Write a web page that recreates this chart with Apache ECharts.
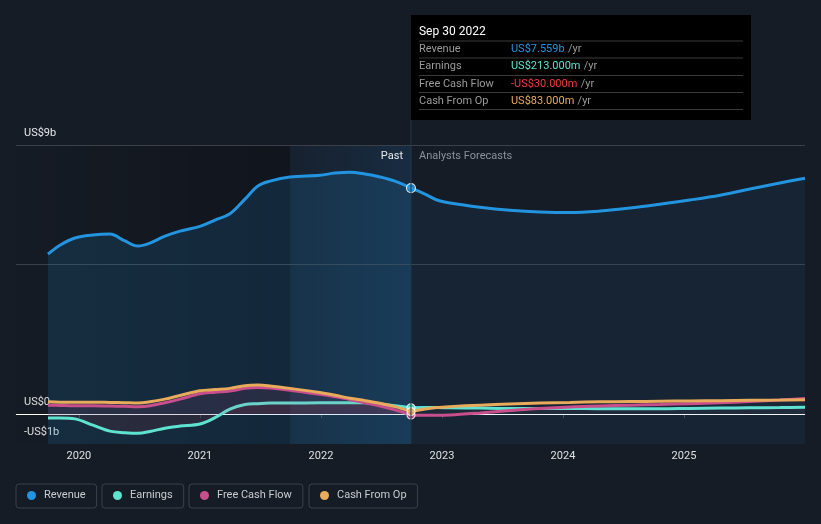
<!DOCTYPE html>
<html><head><meta charset="utf-8">
<script src="https://cdn.jsdelivr.net/npm/echarts@6/dist/echarts.min.js"></script>
<style>html,body{margin:0;padding:0;background:#161c26;}#c{width:821px;height:524px;}</style>
</head><body><div id="c"></div>
<script>
// ---- data (decimal years, values in US$ billions) ----
const pastYears = [2019.744,2019.843,2019.967,2020.116,2020.256,2020.380,2020.488,2020.587,2020.711,2020.835,2021.000,2021.124,2021.248,2021.372,2021.479,2021.579,2021.744,2021.992,2022.116,2022.240,2022.364,2022.488,2022.612,2022.744];
const forecastYears = [2022.744,2022.860,2022.959,2023.066,2023.314,2023.562,2023.810,2024.058,2024.306,2024.554,2024.802,2025.050,2025.298,2025.545,2025.793,2026.000];

const revenuePast = [5.35,5.65,5.89,5.99,6.02,5.79,5.62,5.72,5.95,6.12,6.28,6.49,6.70,7.19,7.63,7.79,7.93,7.99,8.06,8.09,8.03,7.93,7.79,7.559];
const revenueForecast = [7.559,7.36,7.16,7.06,6.92,6.82,6.76,6.74,6.79,6.89,7.02,7.16,7.32,7.53,7.73,7.89];

const earningsPast = [-0.13,-0.13,-0.16,-0.37,-0.57,-0.62,-0.64,-0.58,-0.47,-0.40,-0.33,-0.12,0.17,0.32,0.35,0.37,0.37,0.38,0.38,0.38,0.38,0.34,0.28,0.213];
const earningsForecast = [0.213,0.22,0.22,0.21,0.20,0.19,0.19,0.19,0.18,0.18,0.18,0.19,0.20,0.21,0.22,0.23];

const fcfPast = [0.30,0.29,0.28,0.28,0.27,0.26,0.25,0.28,0.38,0.50,0.68,0.73,0.77,0.86,0.89,0.87,0.80,0.66,0.58,0.49,0.38,0.27,0.14,-0.03];
const fcfForecast = [-0.03,-0.04,-0.04,-0.03,0.04,0.12,0.19,0.24,0.27,0.30,0.32,0.35,0.38,0.42,0.47,0.52];

const cfoPast = [0.41,0.40,0.40,0.40,0.39,0.38,0.37,0.41,0.50,0.62,0.78,0.82,0.86,0.95,0.97,0.94,0.86,0.72,0.63,0.53,0.45,0.36,0.25,0.083];
const cfoForecast = [0.083,0.17,0.22,0.25,0.30,0.34,0.37,0.39,0.41,0.42,0.43,0.44,0.45,0.46,0.47,0.48];

const seriesNames = ['Revenue','Earnings','Free Cash Flow','Cash From Op'];
const seriesColors = ['#2394df','#5fe3d1','#c84f8c','#e8ab5c'];
const xTickValues = [2020,2021,2022,2023,2024,2025];
const yTickValues = [-1,0,9];
const yTickLabels = ['-US$1b','US$0','US$9b'];
const gridLineValues = [9,5];
const xMin = 2019.48, xMax = 2026.0;
const dividerYear = 2022.744;
const pastStartDark = 2021.744;

const tipTitle = 'Sep 30 2022';
const tipLabels = ['Revenue','Earnings','Free Cash Flow','Cash From Op'];
const tipValues = ['US$7.559b','US$213.000m','-US$30.000m','US$83.000m'];
const tipColors = ['#2394df','#5fe3d1','#ee3b40','#e8ab5c'];
const dotValues = [7.559,0.213,-0.03,0.083];

const zip = (xs, ys) => xs.map((x,i)=>[x, ys[i]]);

const chart = echarts.init(document.getElementById('c'), null, {renderer:'canvas'});
const FONT = 'Roboto, "Noto Sans", sans-serif';

function lineSeries(name, color, data, area, z) {
  return {
    name, type:'line', data, smooth:0.35, showSymbol:false, symbol:'none', color,
    lineStyle:{color, width:3}, z,
    areaStyle: area ? area : undefined,
    emphasis:{disabled:true}, silent:true
  };
}

const series = [
  {
    type:'line', data:[], silent:true, z:0,
    markArea:{silent:true, data:[
      [{xAxis:xMin, itemStyle:{color:{type:'linear',x:0,y:0,x2:1,y2:0,colorStops:[{offset:0,color:'rgba(0,0,0,0.04)'},{offset:1,color:'rgba(0,0,0,0.25)'}]}}},{xAxis:pastStartDark}],
      [{xAxis:pastStartDark, itemStyle:{color:{type:'linear',x:0,y:0,x2:1,y2:0,colorStops:[{offset:0,color:'rgba(30,100,160,0.07)'},{offset:1,color:'rgba(30,100,160,0.22)'}]}}},{xAxis:dividerYear}]
    ]},
    markLine:{silent:true, symbol:'none', label:{show:false},
      data: gridLineValues.map(v=>({yAxis:v, lineStyle:{color:'#3a4049', width:1, type:'solid'}}))}
  },
  lineSeries('Revenue', seriesColors[0], zip(pastYears, revenuePast), {origin:'start', color:'rgba(35,148,223,0.22)'}, 5),
  lineSeries('Revenue', seriesColors[0], zip(forecastYears, revenueForecast), {origin:'start', color:'rgba(35,148,223,0.10)'}, 5),
  lineSeries('Earnings', seriesColors[1], zip(pastYears, earningsPast), {color:'rgba(200,40,50,0.16)'}, 6),
  lineSeries('Earnings', seriesColors[1], zip(forecastYears, earningsForecast), {color:'rgba(200,200,210,0.05)'}, 6),
  lineSeries('Free Cash Flow', seriesColors[2], zip(pastYears, fcfPast), {color:'rgba(200,80,138,0.16)'}, 7),
  lineSeries('Free Cash Flow', seriesColors[2], zip(forecastYears, fcfForecast), {color:'rgba(200,200,210,0.04)'}, 7),
  lineSeries('Cash From Op', seriesColors[3], zip(pastYears, cfoPast), null, 8),
  lineSeries('Cash From Op', seriesColors[3], zip(forecastYears, cfoForecast), null, 8),
  {
    type:'line', data:[], silent:true, z:9,
    markLine:{silent:true, symbol:'none', label:{show:false}, data:[{yAxis:0, lineStyle:{color:'#ffffff', width:1.2, type:'solid'}}]}
  },
  ...[0,1,2,3].map(i => ({
    type:'scatter', silent:true, z:12+i,
    data:[[dividerYear, dotValues[i]]],
    symbolSize: i===0 ? 9 : 8,
    itemStyle:{color:seriesColors[i], borderColor:'#ffffff', borderWidth:1.2}
  }))
];

const legendLefts = [16,102,189,309];
const option = {
  backgroundColor:'#161c26',
  animation:false,
  textStyle:{fontFamily:FONT},
  grid:{left:16, right:16, top:145, bottom:80, containLabel:false},
  xAxis:{
    type:'value', min:xMin, max:xMax,
    axisLine:{show:true, lineStyle:{color:'#474d57', width:1}},
    axisTick:{show:true, customValues:xTickValues, length:4, lineStyle:{color:'#474d57'}},
    axisLabel:{customValues:xTickValues, formatter:v=>String(Math.round(v)), color:'#dfe1e4', fontSize:11, margin:7},
    splitLine:{show:false}
  },
  yAxis:{
    type:'value', min:-1, max:9,
    axisLine:{show:false}, axisTick:{show:false}, splitLine:{show:false},
    axisLabel:{inside:true, customValues:yTickValues,
      formatter:v=>{const i=yTickValues.indexOf(Math.round(v)); return i>=0?yTickLabels[i]:'';},
      color:'#e6e8ea', fontSize:11, verticalAlign:'bottom', padding:[0,0,6,0], margin:8}
  },
  legend: seriesNames.map((n,i)=>({
    data:[n], left:legendLefts[i], top:484, icon:'circle', itemWidth:9, itemHeight:9,
    padding:[6,11,7,11], borderColor:'#3b414b', borderWidth:1, borderRadius:3,
    textStyle:{color:'#c9ccd1', fontSize:11, padding:[0,0,0,3]},
    selectedMode:false
  })),
  series
};
chart.setOption(option);

const px = chart.convertToPixel({xAxisIndex:0}, dividerYear);
const gridBottom = chart.convertToPixel({yAxisIndex:0}, -1);
const tipX = px, tipY = 15, tipW = 340, tipH = 105;
const rowY = [49.5, 66.5, 84, 101];
const sepY = [41, 58, 75.5, 92.5, 109.5];
const graphic = [
  {type:'line', silent:true, z:20, shape:{x1:px, y1:tipY+tipH, x2:px, y2:gridBottom}, style:{stroke:'#25394c', lineWidth:1}},
  {type:'text', silent:true, z:20, style:{text:'Past', x:px-8, y:156, align:'right', verticalAlign:'middle', fill:'#e8eaec', font:'11px '+FONT}},
  {type:'text', silent:true, z:20, style:{text:'Analysts Forecasts', x:px+8, y:156, align:'left', verticalAlign:'middle', fill:'#8c9199', font:'11px '+FONT}},
  {type:'rect', silent:true, z:30, shape:{x:tipX, y:tipY, width:tipW, height:tipH}, style:{fill:'#000000'}},
  {type:'text', silent:true, z:31, style:{text:tipTitle, x:tipX+8, y:32, verticalAlign:'middle', fill:'#ffffff', font:'12px '+FONT}},
  ...sepY.map(y=>({type:'line', silent:true, z:31, shape:{x1:tipX+8, y1:y, x2:tipX+tipW-8, y2:y}, style:{stroke:'#3a3a3a', lineWidth:1}})),
  ...tipLabels.map((t,i)=>({type:'text', silent:true, z:31, style:{text:t, x:tipX+8, y:rowY[i], verticalAlign:'middle', fill:'#9a9a9a', font:'11px '+FONT}})),
  ...tipValues.map((t,i)=>({type:'text', silent:true, z:31, style:{
    text:'{v|'+t+'} {u|/yr}', x:tipX+100, y:rowY[i], verticalAlign:'middle',
    rich:{v:{fill:tipColors[i], fontSize:11, fontFamily:FONT}, u:{fill:'#9a9a9a', fontSize:11, fontFamily:FONT}}
  }}))
];
chart.setOption({graphic});
</script>
</body></html>
